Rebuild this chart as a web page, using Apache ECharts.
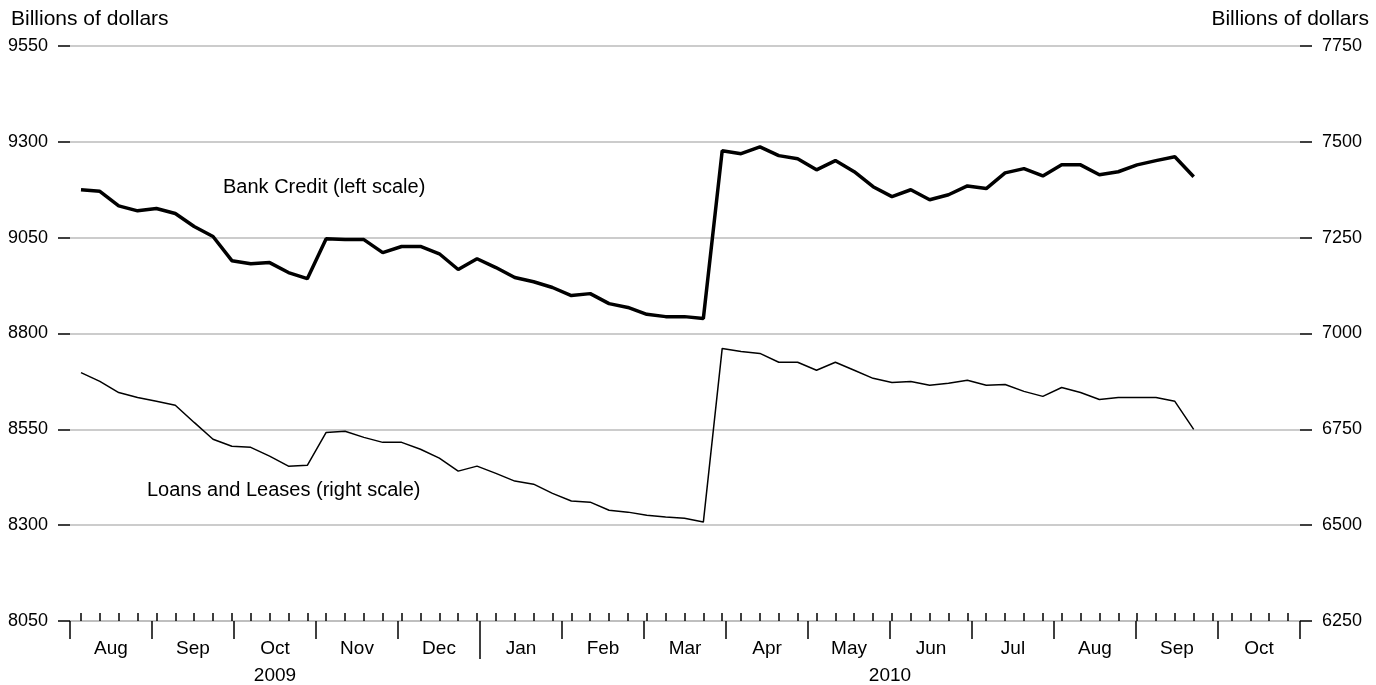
<!DOCTYPE html>
<html>
<head>
<meta charset="utf-8">
<script src="https://cdn.jsdelivr.net/npm/echarts@6/dist/echarts.min.js"></script>
<style>
html,body{margin:0;padding:0;background:#fff;}
#chart{width:1376px;height:685px;}
</style>
</head>
<body>
<div id="chart"></div>
<script>
// weekly observations, Aug 2009 - Sep 2010 (index = week number)
var bankCredit = [9175,9171,9133,9120,9126,9113,9079,9053,8990,8982,
	8985,8959,8943,9047,9045,9045,9011,9027,9027,9008,
	8967,8995,8972,8946,8935,8920,8899,8904,8878,8868,
	8850,8844,8844,8839,9277,9269,9287,9264,9256,9227,
	9251,9222,9183,9157,9175,9149,9162,9185,9178,9219,
	9230,9211,9240,9240,9214,9222,9240,9251,9261,9209];
var loansLeases = [6898,6875,6846,6833,6823,6813,6768,6724,6706,6703,
	6680,6654,6656,6742,6745,6729,6716,6716,6698,6675,
	6641,6654,6635,6615,6607,6583,6563,6560,6539,6534,
	6526,6521,6518,6508,6961,6953,6948,6925,6925,6904,
	6925,6904,6883,6872,6875,6865,6870,6878,6865,6867,
	6849,6836,6859,6846,6828,6833,6833,6833,6823,6750];
var months = ['Aug','Sep','Oct','Nov','Dec','Jan','Feb','Mar','Apr','May','Jun','Jul','Aug','Sep','Oct'];
var years = ['2009','2010'];
var yearMonths = [5,10]; // months shown per year
var leftTicks = [8050,8300,8550,8800,9050,9300,9550];
var rightTicks = [6250,6500,6750,7000,7250,7500,7750];
var weekCount = 65;

// month axis in week units
var monthStart = -0.583, monthLen = 4.348;
var xMin = monthStart, xMax = monthStart + months.length*monthLen;

var weekTicks = [];
for (var w=0; w<weekCount; w++) weekTicks.push(w);
var monthBounds = [], monthCenters = [];
for (var k=0; k<=months.length; k++) monthBounds.push(monthStart + k*monthLen);
for (var k=0; k<months.length; k++) monthCenters.push(monthStart + (k+0.5)*monthLen);
var yearBounds = [], yearCenters = [], acc = 0;
for (var j=0; j<years.length; j++) {
	yearCenters.push(monthStart + (acc + yearMonths[j]/2)*monthLen);
	acc += yearMonths[j];
	if (j < years.length-1) yearBounds.push(monthStart + acc*monthLen);
}

function toPairs(arr){
	var out=[];
	for (var i=0;i<arr.length;i++) out.push([i,arr[i]]);
	return out;
}
function nearestLabel(vals, names, v){
	var best=0;
	for (var i=0;i<vals.length;i++) if (Math.abs(vals[i]-v) < Math.abs(vals[best]-v)) best=i;
	return names[best];
}

var font = 'Liberation Sans, Arial, sans-serif';
var chart = echarts.init(document.getElementById('chart'));
var option = {
	animation: false,
	textStyle: {fontFamily: font},
	title: [
		{text: 'Billions of dollars', left: 6, top: 4, textStyle: {fontSize: 21, fontWeight: 'normal', color: '#000', fontFamily: font}},
		{text: 'Billions of dollars', right: 2, top: 4, textStyle: {fontSize: 21, fontWeight: 'normal', color: '#000', fontFamily: font}}
	],
	graphic: [
		{type: 'text', left: 223, top: 177, style: {text: 'Bank Credit (left scale)', font: '20px ' + font, fill: '#000'}},
		{type: 'text', left: 147, top: 480, style: {text: 'Loans and Leases (right scale)', font: '20px ' + font, fill: '#000'}}
	],
	grid: {left: 70, right: 76, top: 46, bottom: 63},
	xAxis: [
		{
			type: 'value', min: xMin, max: xMax, position: 'bottom',
			axisLine: {show: true, onZero: false, lineStyle: {color: '#bbb', width: 1.5}},
			axisTick: {show: true, inside: true, length: 8, customValues: weekTicks, lineStyle: {color: '#000', width: 1.5}},
			axisLabel: {show: false},
			splitLine: {show: false}
		},
		{
			type: 'value', min: xMin, max: xMax, position: 'bottom',
			axisLine: {show: false, onZero: false},
			axisTick: {show: true, length: 18, customValues: monthBounds, lineStyle: {color: '#000', width: 1.5}},
			axisLabel: {show: true, margin: 18, fontSize: 19, color: '#000', fontFamily: font, customValues: monthCenters,
				formatter: function(v){ return nearestLabel(monthCenters, months, v); }},
			splitLine: {show: false}
		},
		{
			type: 'value', min: xMin, max: xMax, position: 'bottom',
			axisLine: {show: false, onZero: false},
			axisTick: {show: true, length: 38, customValues: yearBounds, lineStyle: {color: '#000', width: 1.5}},
			axisLabel: {show: true, margin: 45, fontSize: 19, color: '#000', fontFamily: font, customValues: yearCenters,
				formatter: function(v){ return nearestLabel(yearCenters, years, v); }},
			splitLine: {show: false}
		}
	],
	yAxis: [
		{
			type: 'value', min: leftTicks[0], max: leftTicks[leftTicks.length-1], interval: 250, position: 'left',
			axisLine: {show: false, onZero: false},
			axisTick: {show: true, length: 12, lineStyle: {color: '#000', width: 1.5}},
			axisLabel: {margin: 22, fontSize: 18, color: '#000', fontFamily: font, formatter: function(v){ return String(v); }},
			splitLine: {show: true, lineStyle: {color: '#bbb', width: 1.5}}
		},
		{
			type: 'value', min: rightTicks[0], max: rightTicks[rightTicks.length-1], interval: 250, position: 'right',
			axisLine: {show: false, onZero: false},
			axisTick: {show: true, length: 12, lineStyle: {color: '#000', width: 1.5}},
			axisLabel: {margin: 22, fontSize: 18, color: '#000', fontFamily: font, formatter: function(v){ return String(v); }},
			splitLine: {show: false}
		}
	],
	series: [
		{
			name: 'Bank Credit', type: 'line', xAxisIndex: 0, yAxisIndex: 0,
			data: toPairs(bankCredit), showSymbol: false,
			lineStyle: {color: '#000', width: 3.5}
		},
		{
			name: 'Loans and Leases', type: 'line', xAxisIndex: 0, yAxisIndex: 1,
			data: toPairs(loansLeases), showSymbol: false,
			lineStyle: {color: '#000', width: 1.5}
		}
	]
};
chart.setOption(option);
</script>
</body>
</html>
